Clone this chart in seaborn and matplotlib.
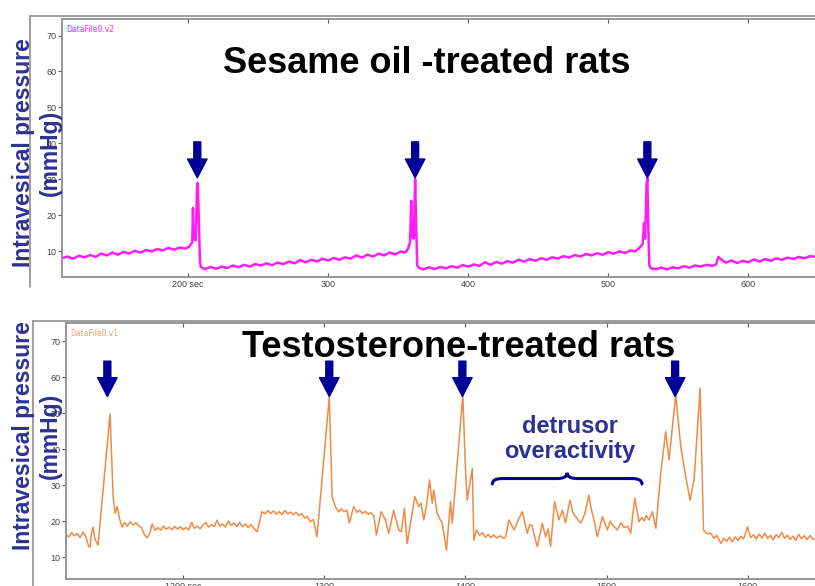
import numpy as np
import pandas as pd
import matplotlib
matplotlib.use("Agg")
import matplotlib.pyplot as plt
from matplotlib.lines import Line2D
from matplotlib.path import Path
from matplotlib.patches import PathPatch
import seaborn as sns

# --- данные: кривые внутрипузырного давления ---
sesame_t = [110, 114, 118, 122, 126, 130, 134, 138, 142, 146, 150, 154, 158, 162, 166, 170,
            174, 178, 182, 186, 190, 194, 198, 201, 203, 203.5, 204.1, 205.5, 206.4, 206.9,
            207.6, 208.4, 209,
            212, 216, 220, 224, 228, 232, 236, 240, 244, 248, 252, 256, 260, 264, 268, 272,
            276, 280, 284, 288, 292, 296, 300, 304, 308, 312, 316, 320, 324, 328, 332, 336,
            340, 344, 348, 352, 355, 357, 358.5, 359.3, 359.9, 361.2, 362.1, 362.8, 363.6, 365,
            368, 372, 376, 380, 384, 388, 392, 396, 400, 404, 408, 412, 416, 420, 424, 428,
            432, 436, 440, 444, 448, 452, 456, 460, 464, 468, 472, 476, 480, 484, 488, 492,
            496, 500, 504, 508, 512, 516, 519, 522, 524.5, 525.5, 526.3, 527.3, 527.9, 528.6,
            529.3, 530.5,
            534, 538, 542, 546, 550, 554, 558, 562, 566, 570, 574, 577, 578.6, 581, 584, 588,
            592, 596, 600, 604, 608, 612, 616, 620, 624, 628, 632, 636, 640, 644, 648.6]
sesame_p = [8.0, 8.5, 7.9, 8.7, 8.3, 8.9, 8.4, 9.3, 8.8, 9.6, 9.0, 9.8, 9.3, 10.1, 9.6, 10.3,
            9.9, 10.6, 10.2, 10.9, 10.4, 11.0, 10.7, 11.3, 12.5, 22.0, 13.5, 13.0, 27.5, 29.0,
            20.0, 8.0, 5.6,
            5.0, 5.6, 5.1, 5.7, 5.3, 6.0, 5.5, 6.2, 5.7, 6.4, 6.0, 6.6, 6.1, 6.8, 6.4, 7.1,
            6.6, 7.5, 6.9, 7.6, 7.1, 7.9, 7.4, 8.1, 7.6, 8.3, 7.9, 8.8, 8.2, 9.0, 8.5, 9.3,
            8.8, 9.6, 9.1, 9.9, 9.6, 10.6, 12.5, 24.0, 14.0, 13.5, 30.0, 18.0, 6.0, 5.3,
            4.9, 5.5, 5.0, 5.6, 5.2, 5.8, 5.4, 6.1, 5.7, 6.3, 5.9, 6.9, 6.2, 7.0, 6.5, 7.2,
            6.8, 7.6, 7.1, 7.8, 7.3, 8.0, 7.6, 8.3, 7.9, 8.6, 8.2, 8.9, 8.5, 9.2, 8.8, 9.4,
            9.0, 9.7, 9.3, 9.9, 9.5, 10.2, 9.9, 10.8, 12.0, 17.8, 13.5, 28.5, 30.3, 16.0,
            6.0, 5.2,
            5.0, 5.4, 4.9, 5.5, 5.2, 5.8, 5.4, 6.0, 5.7, 6.2, 5.9, 6.3, 8.4, 7.5, 6.8, 7.4,
            6.7, 7.3, 6.9, 7.7, 7.1, 7.8, 7.3, 8.0, 7.6, 8.2, 7.8, 8.4, 8.0, 8.6, 8.4]

testo_t = [1117, 1119, 1121, 1123, 1125, 1127, 1129, 1131, 1133, 1134, 1135, 1136.2, 1137.5,
           1139.7, 1148.2, 1150.4, 1151.8, 1153.2, 1155, 1156.7, 1158.5, 1160.5, 1162.5,
           1164.5, 1166.5, 1168.5, 1170.5, 1172.5, 1174.5, 1176.5, 1178, 1180, 1182, 1184,
           1186, 1188, 1190, 1192, 1194, 1196, 1198, 1200, 1202, 1204, 1206, 1208, 1210, 1212,
           1214, 1216, 1218, 1220, 1222, 1224, 1226, 1228, 1230, 1232, 1234, 1236, 1238, 1240,
           1242, 1244, 1246, 1248, 1250, 1252.3, 1254, 1255.8, 1258, 1260, 1262, 1264, 1266,
           1268, 1270, 1272, 1274, 1276, 1278, 1280, 1282, 1284, 1286, 1288, 1290, 1292.2,
           1294.8, 1303.5, 1305.5, 1307.8, 1310, 1312, 1314, 1316.1, 1317.7, 1320.8, 1323,
           1325, 1327, 1329, 1331, 1333, 1335, 1336.9, 1340.2, 1343.3, 1345.6, 1349.1, 1352.7,
           1354.5, 1356.7, 1358.7, 1361.0, 1364.1, 1366.9, 1368.5, 1370.4, 1372.5, 1374.5,
           1376.4, 1377.5, 1379.9, 1383.5, 1386.5, 1389.4, 1390.6, 1392.2, 1398.1, 1400.0,
           1401.2, 1404.8, 1405.9, 1407.8, 1410, 1412, 1414, 1416, 1418, 1420, 1422, 1424.8,
           1427, 1428.4, 1430.7, 1432.5, 1434.3, 1437, 1440.2, 1443.8, 1445.5, 1447.3, 1449,
           1450.9, 1454.4, 1456.7, 1458.5, 1460.3, 1463.1, 1466.2, 1468.6, 1470.9, 1474.0,
           1476, 1478.0, 1481.6, 1484.5, 1487.4, 1489, 1491.0, 1493.4, 1497.0, 1500.5, 1502.5,
           1504.0, 1507.6, 1510, 1512.3, 1515, 1517.0, 1519.9, 1522.9, 1525, 1526.5, 1528,
           1530.0, 1532.4, 1534.8, 1538.3, 1541.8, 1544.2, 1548.9, 1552.5, 1556.0, 1559.1,
           1561.9, 1566.2, 1568.6, 1571, 1573.8, 1576, 1578, 1580.9, 1583, 1585, 1587, 1589,
           1591, 1593, 1595, 1597, 1599.8, 1602, 1604, 1606, 1608, 1610, 1612, 1614, 1616,
           1618, 1620, 1622, 1624, 1626, 1628, 1630, 1632, 1634, 1636, 1638, 1640, 1642, 1644,
           1646, 1649]
testo_p = [16.2, 15.6, 16.8, 15.9, 16.5, 15.4, 16.9, 15.8, 13.0, 12.8, 16.5, 18.3, 15.0,
           13.3, 49.7, 26.7, 22.2, 24.0, 20.5, 18.3, 19.6, 18.6, 19.8,
           18.9, 19.5, 18.7, 18.2, 16.2, 15.3, 16.8, 19.2, 17.4, 18.2, 17.5,
           18.6, 17.7, 18.3, 17.6, 18.5, 17.8, 18.4, 17.6, 18.2, 17.5, 19.6, 18.0, 18.6, 17.8,
           18.9, 19.6, 18.3, 19.0, 18.4, 20.2, 18.6, 19.2, 18.3, 20.0, 18.8, 19.4, 18.5, 19.6,
           18.4, 19.2, 18.2, 19.0, 18.0, 17.0, 19.5, 22.6, 22.0, 22.9, 22.1, 22.8, 21.9,
           22.6, 21.8, 22.9, 22.0, 22.5, 21.7, 22.4, 21.6, 22.0, 20.8, 21.3, 19.8, 20.4,
           15.6, 54.5, 26.8, 24.0, 22.5, 23.4, 22.6, 23.0, 19.4, 24.0, 22.4,
           23.0, 22.1, 22.7, 21.9, 22.3, 21.6, 16.1, 22.6, 20.3, 16.6, 23.0, 17.5,
           17.0, 23.5, 13.8, 19.4, 26.8, 24.0, 25.0, 20.3, 24.5, 31.4,
           24.9, 28.6, 22.1, 19.4, 11.9, 25.4, 19.4, 26.8, 55.0, 34.2,
           25.8, 34.6, 14.7, 17.5, 16.0, 16.8, 15.5, 16.3, 15.4, 16.1, 15.3, 15.9,
           15.2, 15.6, 20.3, 19.0, 17.5, 20.0, 22.6, 16.6, 19.0, 18.7, 15.5,
           12.9, 19.4, 15.6, 17.8, 12.9, 25.4, 20.3, 23.0, 19.5, 25.8,
           22.5, 21.2, 19.4, 22.0, 27.2, 23.5, 20.3, 15.6, 21.2, 17.5, 20.0,
           19.0, 17.5, 19.5, 18.2, 18.5, 16.6, 26.3, 19.8, 21.0, 20.0, 21.5,
           20.3, 22.6, 18.0, 33.2, 44.8, 37.0, 55.0, 40.6, 32.3, 25.8,
           31.4, 56.9, 17.5, 16.5, 16.6, 15.2, 16.0, 13.8, 15.2, 14.4, 15.5, 14.2,
           15.6, 14.6, 15.8, 15.0, 18.4, 15.4, 16.2, 15.0, 16.4, 15.3, 16.6, 15.2, 16.0,
           14.8, 16.2, 15.4, 16.9, 15.2, 16.1, 14.9, 15.8, 14.6, 16.3, 15.1, 15.9, 14.8, 16.0,
           15.0, 15.3]

# отметки мочеиспускания (стрелки)
sesame_arrow_t = [206.6, 362.1, 527.9]
testo_arrow_t = [1146.3, 1303.5, 1397.8, 1548.5]
sesame_arrow_p = (30.4, 40.4)
testo_arrow_p = (54.6, 64.4)
overactivity_span = (1419, 1525)

# подписи осей
y_ticks = [10, 20, 30, 40, 50, 60, 70]
sesame_xticks = [200, 300, 400, 500, 600]
sesame_xlabels = ['200 sec', '300', '400', '500', '600']
testo_xticks = [1200, 1300, 1400, 1500, 1600]
testo_xlabels = ['1200 sec', '1300', '1400', '1500', '1600']

MAGENTA = '#FF1CF5'
ORANGE = '#F08A45'
NAVY = '#000099'
LABEL_BLUE = '#2E3192'
FRAME = '#8E8E8E'

sns.set_style('white')
plt.rcParams['font.family'] = ['Liberation Sans', 'DejaVu Sans']

W, H = 815, 586
fig = plt.figure(figsize=(W / 100, H / 100), dpi=100)
ax_top = fig.add_axes([62 / W, 1 - 277 / H, (817 - 62) / W, (277 - 19) / H])
ax_bot = fig.add_axes([66 / W, 1 - 579 / H, (817 - 66) / W, (579 - 323) / H])


def style_axes(ax, xlim, ylim, xticks, xlabels):
    ax.set_xlim(*xlim)
    ax.set_ylim(*ylim)
    ax.set_xticks(xticks)
    ax.set_xticklabels(xlabels)
    ax.set_yticks(y_ticks)
    ax.set_xlabel('')
    ax.set_ylabel('')
    for sp in ax.spines.values():
        sp.set_color(FRAME)
        sp.set_linewidth(1.3)
    ax.tick_params(axis='x', direction='in', length=3, width=0.8, color='#555555',
                   labelsize=6.5, labelcolor='#444444', pad=2, top=True, bottom=True)
    ax.tick_params(axis='y', direction='out', length=3, width=0.8, color='#555555',
                   labelsize=6.5, labelcolor='#444444', pad=1, left=True)
    ax.tick_params(axis='y', which='both', right=True, labelright=False)


def draw_arrows(ax, times, tip, top):
    for t in times:
        ax.annotate('', xy=(t, tip), xytext=(t, top),
                    arrowprops=dict(arrowstyle='simple,head_length=1.35,head_width=1.4,tail_width=0.5',
                                    color=NAVY, shrinkA=0, shrinkB=0, mutation_scale=10),
                    zorder=5)


# верхняя панель
df_top = pd.DataFrame({'t': sesame_t, 'p': sesame_p})
sns.lineplot(data=df_top, x='t', y='p', ax=ax_top, color=MAGENTA, linewidth=1.8,
             estimator=None, sort=False)
style_axes(ax_top, (110, 649), (2.8, 74.6), sesame_xticks, sesame_xlabels)
draw_arrows(ax_top, sesame_arrow_t, *sesame_arrow_p)
ax_top.text(0.006, 0.978, 'DataFile0.v2', transform=ax_top.transAxes, fontsize=5.5,
            color=MAGENTA, va='top', ha='left', family=['DejaVu Sans'])

# нижняя панель
df_bot = pd.DataFrame({'t': testo_t, 'p': testo_p})
sns.lineplot(data=df_bot, x='t', y='p', ax=ax_bot, color=ORANGE, linewidth=1.1,
             estimator=None, sort=False)
style_axes(ax_bot, (1117, 1649), (3.9, 75), testo_xticks, testo_xlabels)
draw_arrows(ax_bot, testo_arrow_t, *testo_arrow_p)
ax_bot.text(0.006, 0.978, 'DataFile0.v1', transform=ax_bot.transAxes, fontsize=5.5,
            color='#F0A070', va='top', ha='left', family=['DejaVu Sans'])

# фигурная скобка над зоной гиперактивности
x0, x1 = overactivity_span
xm = (x0 + x1) / 2
yb, yl, yp = 30.3, 31.8, 33.4
c = 7
verts = [(x0, yb), (x0, yl), (x0 + c, yl),
         (xm - c, yl), (xm, yl), (xm, yp),
         (xm, yl), (xm + c, yl),
         (x1 - c, yl), (x1, yl), (x1, yb)]
codes = [Path.MOVETO, Path.CURVE3, Path.CURVE3,
         Path.LINETO, Path.CURVE3, Path.CURVE3,
         Path.CURVE3, Path.CURVE3,
         Path.LINETO, Path.CURVE3, Path.CURVE3]
ax_bot.add_patch(PathPatch(Path(verts, codes), fill=False, edgecolor=NAVY, linewidth=2.2,
                           capstyle='round', zorder=5))

# внешние серые рамки
fig.add_artist(Line2D([30 / W, 1], [1 - 16 / H, 1 - 16 / H], color=FRAME, lw=1.2))
fig.add_artist(Line2D([30 / W, 30 / W], [1 - 16 / H, 1 - 287 / H], color=FRAME, lw=1.2))
fig.add_artist(Line2D([33 / W, 1], [1 - 321 / H, 1 - 321 / H], color=FRAME, lw=1.2))
fig.add_artist(Line2D([33 / W, 33 / W], [1 - 321 / H, 0], color=FRAME, lw=1.2))

# заголовки и подписи
fig.text(427 / W, 1 - 73 / H, 'Sesame oil -treated rats', fontsize=26, fontweight='bold',
         ha='center', va='baseline', color='black')
fig.text(459 / W, 1 - 357 / H, 'Testosterone-treated rats', fontsize=26, fontweight='bold',
         ha='center', va='baseline', color='black')
fig.text(570 / W, 1 - 439 / H, 'detrusor\noveractivity', fontsize=17, fontweight='bold',
         ha='center', va='center', color=LABEL_BLUE, linespacing=1.1)

for yc in (153, 436):
    fig.text(37 / W, 1 - yc / H, 'Intravesical pressure\n(mmHg)', fontsize=16.5,
             fontweight='bold', rotation=90, ha='center', va='center',
             multialignment='center', color=LABEL_BLUE, linespacing=1.25)

fig.savefig('out.png', dpi=100)
